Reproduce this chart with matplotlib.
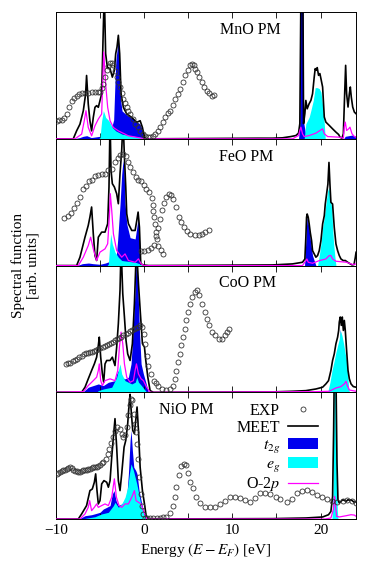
import matplotlib
matplotlib.use("Agg")
import matplotlib.pyplot as plt
from matplotlib.lines import Line2D
from matplotlib.patches import Patch
from matplotlib.ticker import MultipleLocator

plt.rcParams["font.family"] = "serif"
plt.rcParams["font.serif"] = ["Liberation Serif", "DejaVu Serif"]
plt.rcParams["mathtext.fontset"] = "stix"

# colours
C_T2G = "#0000ee"
C_EG = "#00ffff"
C_O2P = "#ff00ff"
C_TOT = "black"
C_EXP = "#333333"

# ---------------- MnO ----------------
MNO_TOT = [(-10, 0), (-8.03, 0.0), (-7.65, 0.063), (-7.27, 0.116), (-6.89, 0.222), (-6.63, 0.354),
           (-6.52, 0.5), (-6.33, 0.275), (-6.14, 0.143), (-5.95, 0.063), (-5.76, 0.169), (-5.57, 0.249),
           (-5.38, 0.262), (-5.19, 0.249), (-5.0, 0.302), (-4.81, 0.354), (-4.62, 0.884), (-4.51, 1.15),
           (-4.36, 0.672), (-4.17, 0.566), (-3.86, 0.553), (-3.6, 0.487), (-3.37, 0.54), (-3.22, 0.672),
           (-3.07, 0.725), (-2.92, 0.817), (-2.77, 0.672), (-2.61, 0.354), (-2.35, 0.249), (-1.97, 0.196),
           (-1.4, 0.169), (-0.83, 0.13), (-0.45, 0.143), (-0.19, 0.09), (0.04, 0.011), (0.3, 0.0),
           (13.0, 0.005), (14.55, 0.005), (15.68, 0.008), (16.63, 0.018), (17.2, 0.026), (17.5, 0.045),
           (17.65, 0.12), (17.77, 1.15), (18.0, 1.15), (18.07, 0.12), (18.22, 0.2), (18.33, 0.303),
           (18.48, 0.237), (18.7, 0.277), (18.9, 0.303), (19.09, 0.356), (19.28, 0.488), (19.39, 0.554),
           (19.5, 0.541), (19.62, 0.562), (19.77, 0.501), (19.92, 0.515), (20.04, 0.475), (20.23, 0.409),
           (20.42, 0.172), (20.6, 0.132), (20.98, 0.106), (21.36, 0.079), (21.74, 0.053), (22.05, 0.034),
           (22.2, 0.013), (22.42, 0.005), (22.58, 0.04), (22.73, 0.356), (22.84, 0.58), (22.95, 0.356),
           (23.11, 0.251), (23.26, 0.356), (23.37, 0.409), (23.48, 0.33), (23.64, 0.251), (23.83, 0.211),
           (24.02, 0.198)]
MNO_T2G = [(-8.0, 0), (-7.3, 0.01), (-6.9, 0.02), (-6.5, 0.025), (-6.0, 0.01), (-5.5, 0.015),
           (-5.0, 0.02), (-4.6, 0.03), (-4.3, 0.02), (-3.9, 0.03), (-3.45, 0.15), (-3.3, 0.45),
           (-3.2, 0.62), (-3.07, 0.7), (-2.92, 0.79), (-2.77, 0.6), (-2.65, 0.3), (-2.5, 0.22),
           (-2.0, 0.19), (-1.5, 0.17), (-1.0, 0.14), (-0.5, 0.12), (-0.25, 0.08), (0.05, 0),
           (17.5, 0), (17.65, 0.12), (17.72, 1.15), (18.0, 1.15), (18.05, 0.14), (18.2, 0.08),
           (18.4, 0), (22.6, 0), (22.8, 0.02), (23.2, 0.025), (23.6, 0.03), (24.02, 0.02)]
MNO_EG = [(-5.2, 0), (-5.0, 0.01), (-4.81, 0.143), (-4.62, 0.222), (-4.5, 0.2), (-4.36, 0.169),
          (-4.0, 0.143), (-3.6, 0.09), (-3.22, 0.063), (-2.5, 0.037), (-0.3, 0.01), (0.0, 0),
          (18.14, 0), (18.33, 0.119), (18.52, 0.145), (18.71, 0.172), (18.9, 0.224), (19.17, 0.303),
          (19.39, 0.404), (19.62, 0.404), (19.85, 0.396), (20.04, 0.369), (20.23, 0.264),
          (20.42, 0.119), (20.53, 0)]
MNO_O2P = [(-10, 0), (-7.84, 0), (-7.08, 0.037), (-6.78, 0.143), (-6.59, 0.222), (-6.33, 0.09),
           (-5.95, 0.024), (-5.57, 0.103), (-5.19, 0.156), (-4.81, 0.196), (-4.58, 0.685),
           (-4.36, 0.434), (-4.13, 0.249), (-3.86, 0.143), (-3.48, 0.09), (-2.92, 0.063),
           (-1.78, 0.024), (0.11, 0), (16.82, 0.0), (17.5, 0.026), (17.65, 0.066), (17.77, 0.092),
           (17.95, 0.04), (18.14, 0.018), (18.71, 0.026), (19.47, 0.045), (20.04, 0.071),
           (20.23, 0.079), (20.42, 0.04), (20.8, 0.018), (22.12, 0.013), (22.58, 0.005),
           (22.69, 0.092), (22.8, 0.132), (22.95, 0.066), (23.18, 0.079), (23.33, 0.092),
           (23.56, 0.04), (23.83, 0.018), (24.02, 0.013)]
MNO_EXP = [(-9.92, 0.143), (-9.64, 0.145), (-9.36, 0.148), (-9.08, 0.165), (-8.79, 0.196), (-8.5, 0.25),
           (-8.22, 0.30), (-7.94, 0.325), (-7.65, 0.34), (-7.37, 0.352), (-7.08, 0.36), (-6.7, 0.363),
           (-6.33, 0.365), (-5.95, 0.366), (-5.57, 0.368), (-5.28, 0.368), (-5.0, 0.368), (-4.81, 0.40),
           (-4.62, 0.434), (-4.43, 0.49), (-4.24, 0.54), (-4.05, 0.575), (-3.86, 0.60), (-3.67, 0.6),
           (-3.48, 0.58), (-3.3, 0.535), (-3.11, 0.487), (-2.92, 0.45), (-2.73, 0.41), (-2.54, 0.36),
           (-2.35, 0.315), (-2.16, 0.28), (-1.97, 0.25), (-1.78, 0.22), (-1.59, 0.196), (-1.3, 0.155),
           (-1.02, 0.116), (-0.73, 0.09), (-0.45, 0.063), (-0.17, 0.04), (0.11, 0.024), (0.4, 0.018),
           (0.68, 0.016), (0.96, 0.025), (1.25, 0.037), (1.53, 0.06), (1.82, 0.09), (2.1, 0.13),
           (2.39, 0.17), (2.67, 0.2), (2.95, 0.22), (3.24, 0.265), (3.52, 0.315), (3.8, 0.355),
           (4.09, 0.394), (4.37, 0.45), (4.66, 0.50), (4.95, 0.545), (5.23, 0.58), (5.42, 0.59),
           (5.61, 0.58), (5.8, 0.555), (5.98, 0.526), (6.27, 0.485), (6.55, 0.447), (6.83, 0.41),
           (7.12, 0.38), (7.4, 0.36), (7.69, 0.34), (7.95, 0.345)]

# ---------------- FeO ----------------
FEO_TOT = [(-10, 0), (-7.65, 0), (-7.27, 0.066), (-6.7, 0.224), (-6.33, 0.317), (-6.14, 0.383),
           (-5.95, 0.462), (-5.76, 0.251), (-5.57, 0.079), (-5.38, 0.04), (-5.19, 0.224), (-4.81, 0.264),
           (-4.43, 0.264), (-4.13, 0.33), (-3.98, 0.62), (-3.86, 1.15), (-3.75, 0.752), (-3.6, 0.646),
           (-3.37, 0.62), (-3.11, 0.567), (-2.92, 0.488), (-2.73, 0.726), (-2.54, 0.91), (-2.39, 1.15),
           (-2.23, 0.858), (-2.08, 0.62), (-1.97, 0.409), (-1.78, 0.33), (-1.4, 0.277), (-1.02, 0.277),
           (-0.83, 0.356), (-0.68, 0.422), (-0.53, 0.303), (-0.38, 0.013), (-0.08, 0.005), (0.5, 0),
           (14.55, 0.005), (16.82, 0.013), (17.95, 0.026), (18.22, 0.052), (18.33, 0.223),
           (18.41, 0.381), (18.48, 0.407), (18.6, 0.381), (18.71, 0.328), (18.83, 0.262), (18.98, 0.197),
           (19.09, 0.118), (19.28, 0.092), (19.47, 0.066), (19.66, 0.079), (19.85, 0.118), (20.04, 0.197),
           (20.23, 0.328), (20.42, 0.394), (20.53, 0.486), (20.68, 0.564), (20.83, 0.643), (20.95, 0.814),
           (21.06, 0.643), (21.17, 0.499), (21.36, 0.486), (21.55, 0.302), (21.74, 0.171), (21.93, 0.118),
           (22.12, 0.079), (22.31, 0.052), (22.58, 0.039), (22.8, 0.04), (23.07, 0.026), (23.56, 0.005),
           (23.79, 0.008), (23.94, 0.066), (24.02, 0.105)]
FEO_T2G = [(-7.6, 0), (-7.0, 0.015), (-6.3, 0.02), (-5.8, 0.015), (-5.0, 0.01), (-4.4, 0.02),
           (-4.0, 0.03), (-3.2, 0.04), (-3.0, 0.2), (-2.73, 0.48), (-2.54, 0.72), (-2.39, 0.83),
           (-2.27, 0.75), (-2.16, 0.49), (-1.97, 0.33), (-1.59, 0.22), (-1.02, 0.21), (-0.83, 0.30),
           (-0.68, 0.38), (-0.53, 0.22), (-0.38, 0.0),
           (18.18, 0), (18.33, 0.197), (18.45, 0.381), (18.56, 0.354), (18.71, 0.276), (18.9, 0.171),
           (19.09, 0.079), (19.28, 0.039), (19.47, 0)]
FEO_EG = [(-4.2, 0), (-4.05, 0.013), (-3.94, 0.119), (-3.79, 0.25), (-3.6, 0.17), (-3.3, 0.106),
          (-2.92, 0.066), (-2.54, 0.04), (-1.0, 0.026), (-0.45, 0.013), (-0.3, 0),
          (19.66, 0), (19.85, 0.079), (20.04, 0.171), (20.23, 0.302), (20.42, 0.381), (20.6, 0.486),
          (20.8, 0.591), (20.95, 0.617), (21.1, 0.538), (21.29, 0.433), (21.36, 0.302), (21.48, 0.171),
          (21.63, 0.066), (21.74, 0)]
FEO_O2P = [(-10, 0), (-7.46, 0), (-6.89, 0.066), (-6.33, 0.158), (-6.06, 0.224), (-5.76, 0.132),
           (-5.38, 0.04), (-5.0, 0.106), (-4.43, 0.132), (-4.13, 0.172), (-3.94, 0.383), (-3.83, 0.567),
           (-3.67, 0.435), (-3.48, 0.251), (-3.11, 0.119), (-2.54, 0.066), (-2.16, 0.092), (-1.78, 0.04),
           (-1.02, 0.026), (-0.64, 0.053), (-0.34, 0.013), (0.04, 0), (17.95, 0.0), (18.33, 0.039),
           (18.45, 0.052), (18.6, 0.026), (19.09, 0.018), (19.85, 0.039), (20.6, 0.052), (20.98, 0.079),
           (21.17, 0.079), (21.36, 0.052), (21.74, 0.034), (22.95, 0.026), (23.64, 0.008), (24.02, 0.013)]
FEO_PES = [(-9.05, 0.375), (-8.67, 0.388), (-8.33, 0.414), (-7.99, 0.454), (-7.61, 0.496), (-7.31, 0.54),
           (-6.89, 0.607), (-6.59, 0.63), (-6.29, 0.668), (-5.95, 0.673), (-5.57, 0.705), (-5.19, 0.712),
           (-4.81, 0.72), (-4.43, 0.726), (-4.05, 0.752), (-3.6, 0.765), (-3.3, 0.818), (-2.99, 0.852),
           (-2.69, 0.873), (-2.39, 0.884), (-2.08, 0.863), (-1.86, 0.818), (-1.55, 0.778), (-1.25, 0.736),
           (-0.95, 0.70), (-0.64, 0.678), (-0.34, 0.665), (-0.04, 0.633), (0.27, 0.607), (0.61, 0.58),
           (0.87, 0.533), (0.98, 0.475), (1.06, 0.43), (1.17, 0.383), (1.25, 0.325), (1.36, 0.264),
           (1.44, 0.211), (1.63, 0.158), (1.93, 0.119), (2.12, 0.092)]
FEO_BIS = [(-0.34, 0.113), (0.04, 0.113), (0.42, 0.119), (0.8, 0.137), (1.1, 0.166), (1.36, 0.23),
           (1.63, 0.30), (1.82, 0.37), (2.0, 0.435), (2.2, 0.49), (2.46, 0.54), (2.77, 0.562),
           (3.07, 0.56), (3.33, 0.528), (3.6, 0.46), (3.98, 0.38), (4.2, 0.343), (4.47, 0.303),
           (4.85, 0.27), (5.23, 0.25), (5.72, 0.245), (6.17, 0.245), (6.55, 0.25), (6.93, 0.264),
           (7.31, 0.282)]

# ---------------- CoO ----------------
COO_TOT = [(-10, 0), (-7.08, 0), (-6.7, 0.04), (-6.33, 0.106), (-5.95, 0.172), (-5.64, 0.224),
           (-5.38, 0.277), (-5.19, 0.369), (-5.08, 0.435), (-4.92, 0.277), (-4.73, 0.145), (-4.58, 0.079),
           (-4.43, 0.224), (-4.24, 0.251), (-3.86, 0.251), (-3.6, 0.277), (-3.3, 0.211), (-3.11, 0.356),
           (-2.92, 0.541), (-2.73, 0.805), (-2.61, 1.15), (-2.42, 0.778), (-2.23, 0.594), (-2.05, 0.409),
           (-1.86, 0.303), (-1.59, 0.251), (-1.33, 0.383), (-1.1, 0.699), (-0.87, 1.15), (-0.64, 0.858),
           (-0.42, 0.62), (-0.19, 0.383), (0.04, 0.356), (0.19, 0.251), (0.42, 0.119), (0.68, 0.013),
           (1.06, 0), (14.55, 0.003), (16.82, 0.008), (18.33, 0.013), (19.47, 0.026), (20.23, 0.04),
           (20.6, 0.066), (20.9, 0.092), (21.17, 0.172), (21.36, 0.251), (21.55, 0.303), (21.74, 0.383),
           (21.93, 0.435), (22.05, 0.488), (22.12, 0.554), (22.23, 0.594), (22.35, 0.528), (22.46, 0.594),
           (22.58, 0.488), (22.69, 0.567), (22.8, 0.488), (22.95, 0.33), (23.11, 0.172), (23.26, 0.106),
           (23.45, 0.066), (23.71, 0.045), (24.02, 0.04)]
COO_T2G = [(-7.1, 0), (-6.89, 0.005), (-6.33, 0.04), (-5.76, 0.053), (-5.19, 0.066), (-4.62, 0.053),
           (-4.05, 0.079), (-3.3, 0.092), (-3.11, 0.145), (-2.92, 0.172), (-2.61, 0.119), (-2.16, 0.106),
           (-1.78, 0.119), (-1.48, 0.224), (-1.25, 0.488), (-1.02, 0.805), (-0.87, 1.15), (-0.72, 0.858),
           (-0.53, 0.488), (-0.34, 0.224), (-0.08, 0.145), (0.19, 0.079), (0.49, 0),
           (21.9, 0), (22.12, 0.3), (22.23, 0.5), (22.35, 0.42), (22.5, 0.2), (22.7, 0)]
COO_EG = [(-5.4, 0), (-5.19, 0.013), (-4.62, 0.026), (-3.67, 0.04), (-3.11, 0.119), (-2.92, 0.172),
          (-2.73, 0.224), (-2.54, 0.145), (-2.16, 0.092), (-1.78, 0.079), (-1.4, 0.066), (-1.0, 0.08),
          (-0.83, 0.12), (-0.64, 0.08), (-0.3, 0.053), (0.0, 0.026), (0.3, 0),
          (20.8, 0), (21.06, 0.079), (21.29, 0.172), (21.55, 0.251), (21.74, 0.317), (21.93, 0.37),
          (22.12, 0.422), (22.23, 0.488), (22.42, 0.449), (22.61, 0.383), (22.8, 0.303), (22.95, 0.251),
          (23.07, 0.145), (23.18, 0.04), (23.26, 0)]
COO_O2P = [(-10, 0), (-6.89, 0.005), (-6.33, 0.053), (-5.76, 0.092), (-5.38, 0.119), (-5.19, 0.172),
           (-5.08, 0.224), (-4.92, 0.092), (-4.73, 0.053), (-4.43, 0.092), (-3.86, 0.106), (-3.3, 0.092),
           (-2.99, 0.172), (-2.8, 0.356), (-2.61, 0.475), (-2.42, 0.383), (-2.23, 0.224), (-1.97, 0.119),
           (-1.59, 0.079), (-1.21, 0.092), (-1.02, 0.172), (-0.87, 0.224), (-0.64, 0.145), (-0.34, 0.106),
           (-0.08, 0.092), (0.3, 0.04), (0.68, 0), (19.47, 0.005), (20.98, 0.008), (21.74, 0.034),
           (22.31, 0.045), (22.69, 0.066), (22.88, 0.087), (23.03, 0.053), (23.26, 0.018), (24.02, 0.008)]
COO_EXP = [(-8.9, 0.224), (-8.65, 0.228), (-8.41, 0.232), (-8.03, 0.243), (-7.8, 0.254), (-7.58, 0.264),
           (-7.33, 0.277), (-7.08, 0.29), (-6.85, 0.3), (-6.63, 0.309), (-6.38, 0.313), (-6.14, 0.317),
           (-5.9, 0.321), (-5.68, 0.325), (-5.43, 0.332), (-5.19, 0.34), (-4.95, 0.348), (-4.7, 0.356),
           (-4.47, 0.364), (-4.24, 0.372), (-4.0, 0.38), (-3.79, 0.388), (-3.55, 0.398), (-3.3, 0.409),
           (-3.07, 0.42), (-2.84, 0.43), (-2.6, 0.44), (-2.35, 0.449), (-2.1, 0.46), (-1.86, 0.47),
           (-1.63, 0.48), (-1.4, 0.488), (-1.17, 0.498), (-0.95, 0.507), (-0.7, 0.518), (-0.45, 0.528),
           (-0.19, 0.514), (0.0, 0.462), (0.11, 0.383), (0.3, 0.29), (0.49, 0.211), (0.8, 0.145),
           (1.17, 0.092), (1.4, 0.07), (1.63, 0.053), (2.0, 0.026), (2.46, 0.018), (2.95, 0.026),
           (3.22, 0.053), (3.45, 0.106), (3.64, 0.17), (3.83, 0.237), (4.02, 0.303), (4.2, 0.37),
           (4.39, 0.435), (4.58, 0.50), (4.77, 0.567), (4.96, 0.633), (5.15, 0.70), (5.42, 0.752),
           (5.72, 0.79), (5.98, 0.805), (6.25, 0.765), (6.55, 0.70), (6.86, 0.633), (7.12, 0.58),
           (7.39, 0.528), (7.69, 0.475), (8.07, 0.449), (8.45, 0.422), (8.83, 0.422), (9.2, 0.449),
           (9.45, 0.475), (9.66, 0.50)]

# ---------------- NiO ----------------
NIO_TOT = [(-10, 0), (-7.46, 0), (-7.08, 0.04), (-6.52, 0.106), (-6.14, 0.224), (-5.87, 0.237),
           (-5.64, 0.29), (-5.49, 0.356), (-5.34, 0.224), (-5.19, 0.119), (-5.0, 0.145), (-4.81, 0.277),
           (-4.55, 0.303), (-4.24, 0.29), (-4.05, 0.251), (-3.86, 0.303), (-3.67, 0.488), (-3.48, 0.646),
           (-3.3, 0.792), (-3.11, 0.567), (-2.92, 0.303), (-2.73, 0.224), (-2.54, 0.356), (-2.27, 0.567),
           (-2.08, 0.62), (-1.86, 0.752), (-1.7, 0.91), (-1.59, 0.984), (-1.44, 0.831), (-1.29, 0.699),
           (-1.1, 0.673), (-0.95, 0.778), (-0.8, 0.884), (-0.64, 0.699), (-0.45, 0.409), (-0.19, 0.224),
           (0.04, 0.119), (0.23, 0.026), (0.49, 0), (14.55, 0.003), (18.33, 0.008), (20.23, 0.016),
           (20.9, 0.034), (21.17, 0.06), (21.36, 0.178), (21.48, 0.703), (21.55, 1.15), (21.74, 1.15),
           (21.86, 0.441), (21.97, 0.152), (22.12, 0.126), (22.31, 0.139), (22.5, 0.152), (22.7, 0.147),
           (22.9, 0.139), (23.1, 0.152), (23.3, 0.147), (23.45, 0.152), (23.6, 0.144), (23.83, 0.131),
           (24.02, 0.139)]
NIO_T2G = [(-7.27, 0.005), (-6.7, 0.026), (-5.95, 0.034), (-5.38, 0.045), (-5.0, 0.053), (-4.62, 0.079),
           (-4.24, 0.092), (-3.86, 0.106), (-3.6, 0.198), (-3.41, 0.224), (-3.18, 0.145), (-2.92, 0.106),
           (-2.54, 0.119), (-2.16, 0.145), (-1.97, 0.172), (-1.78, 0.356), (-1.59, 0.62), (-1.48, 0.699),
           (-1.33, 0.541), (-1.17, 0.409), (-0.95, 0.383), (-0.8, 0.356), (-0.57, 0.224), (-0.34, 0.145),
           (-0.08, 0.066), (0.19, 0)]
NIO_EG = [(-6.7, 0.005), (-5.57, 0.018), (-4.81, 0.04), (-4.05, 0.053), (-3.48, 0.106), (-3.3, 0.132),
          (-2.92, 0.092), (-2.54, 0.119), (-2.16, 0.172), (-1.86, 0.251), (-1.67, 0.356), (-1.48, 0.435),
          (-1.21, 0.383), (-0.83, 0.277), (-0.45, 0.145), (-0.08, 0.053), (0.19, 0),
          (21.29, 0), (21.4, 0.178), (21.48, 0.7), (21.55, 1.15), (21.74, 1.15), (21.82, 0.441),
          (21.89, 0.073), (21.97, 0)]
NIO_O2P = [(-10, 0), (-7.27, 0), (-6.7, 0.04), (-6.33, 0.092), (-6.17, 0.145), (-5.95, 0.066),
           (-5.64, 0.092), (-5.38, 0.119), (-5.19, 0.092), (-4.81, 0.106), (-4.43, 0.119), (-4.05, 0.106),
           (-3.67, 0.172), (-3.37, 0.317), (-3.14, 0.172), (-2.84, 0.106), (-2.54, 0.092), (-2.16, 0.119),
           (-1.78, 0.119), (-1.4, 0.172), (-1.1, 0.224), (-0.91, 0.145), (-0.64, 0.132), (-0.34, 0.119),
           (-0.08, 0.066), (0.3, 0), (20.5, 0), (21.17, 0.008), (21.44, 0.073), (21.59, 0.178),
           (21.7, 0.1), (21.82, 0.021), (22.12, 0.016), (22.9, 0.026), (23.45, 0.034), (23.83, 0.031),
           (24.02, 0.021)]
NIO_EXP = [(-9.92, 0.356), (-9.73, 0.362), (-9.55, 0.369), (-9.36, 0.376), (-9.17, 0.383), (-8.98, 0.39),
           (-8.79, 0.396), (-8.6, 0.403), (-8.41, 0.409), (-8.22, 0.4), (-8.03, 0.39), (-7.84, 0.382),
           (-7.65, 0.375), (-7.46, 0.371), (-7.27, 0.369), (-7.08, 0.376), (-6.89, 0.383), (-6.7, 0.387),
           (-6.52, 0.39), (-6.33, 0.393), (-6.14, 0.396), (-5.95, 0.403), (-5.76, 0.409), (-5.57, 0.412),
           (-5.38, 0.414), (-5.19, 0.422), (-5.0, 0.43), (-4.81, 0.44), (-4.62, 0.449), (-4.36, 0.475),
           (-4.13, 0.515), (-3.94, 0.554), (-3.75, 0.6), (-3.56, 0.646), (-3.3, 0.694), (-3.03, 0.726),
           (-2.77, 0.712), (-2.54, 0.673), (-2.35, 0.646), (-2.16, 0.66), (-1.97, 0.726), (-1.78, 0.818),
           (-1.63, 0.897), (-1.48, 0.95), (-1.33, 0.937), (-1.17, 0.83), (-1.02, 0.752), (-0.91, 0.686),
           (-0.83, 0.594), (-0.7, 0.47), (-0.55, 0.33), (-0.4, 0.2), (-0.25, 0.1), (-0.1, 0.04),
           (0.1, 0.01), (0.3, 0.005), (0.68, 0.005), (1.06, 0.005), (1.44, 0.007), (1.82, 0.01),
           (2.16, 0.014), (2.5, 0.018), (2.95, 0.05), (3.26, 0.102), (3.48, 0.176), (3.64, 0.255),
           (3.9, 0.346), (4.17, 0.417), (4.47, 0.438), (4.73, 0.425), (4.96, 0.36), (5.23, 0.294),
           (5.53, 0.241), (5.91, 0.176), (6.36, 0.123), (6.93, 0.097), (7.5, 0.092), (8.07, 0.097),
           (8.64, 0.115), (9.2, 0.144), (9.77, 0.171), (10.34, 0.176), (10.9, 0.163), (11.48, 0.15),
           (12.05, 0.136), (12.6, 0.163), (13.18, 0.202), (13.75, 0.207), (14.3, 0.197), (14.9, 0.176),
           (15.45, 0.155), (16.2, 0.136), (16.8, 0.155), (17.35, 0.202), (17.9, 0.223), (18.5, 0.228),
           (19.05, 0.215), (19.6, 0.189), (20.2, 0.171), (20.75, 0.155), (21.3, 0.142), (21.9, 0.136),
           (22.5, 0.142), (23.0, 0.15), (23.6, 0.144), (24.05, 0.128)]

PANELS = [
    ("MnO PM", MNO_TOT, MNO_T2G, MNO_EG, MNO_O2P, [MNO_EXP]),
    ("FeO PM", FEO_TOT, FEO_T2G, FEO_EG, FEO_O2P, [FEO_PES, FEO_BIS]),
    ("CoO PM", COO_TOT, COO_T2G, COO_EG, COO_O2P, [COO_EXP]),
    ("NiO PM", NIO_TOT, NIO_T2G, NIO_EG, NIO_O2P, [NIO_EXP]),
]
LABEL_X = [0.647, 0.635, 0.64, 0.436]


def xy(pairs):
    return [p[0] for p in pairs], [p[1] for p in pairs]


fig, axes = plt.subplots(4, 1, figsize=(3.75, 5.77), dpi=100, sharex=True)
fig.subplots_adjust(left=0.149, right=0.949, top=0.979, bottom=0.1005, hspace=0)

for ax, (name, tot, t2g, eg, o2p, exps), lx in zip(axes, PANELS, LABEL_X):
    x, y = xy(t2g)
    ax.fill_between(x, y, 0, color=C_T2G, lw=0, zorder=1)
    x, y = xy(eg)
    ax.fill_between(x, y, 0, color=C_EG, lw=0, zorder=2)
    x, y = xy(tot)
    ax.plot(x, y, color=C_TOT, lw=1.2, zorder=3)
    x, y = xy(o2p)
    ax.plot(x, y, color=C_O2P, lw=0.9, zorder=4)
    for e in exps:
        x, y = xy(e)
        ax.plot(x, y, ls="none", marker="o", ms=3.6, mfc="none", mec=C_EXP, mew=0.6, zorder=5)

    ax.set_xlim(-10, 24)
    ax.set_ylim(0, 1)
    ax.set_yticks([])
    ax.xaxis.set_major_locator(MultipleLocator(10))
    ax.xaxis.set_minor_locator(MultipleLocator(5))
    ax.tick_params(axis="x", which="both", direction="in", top=True, bottom=True,
                   length=4, width=0.6, labelsize=11)
    for sp in ax.spines.values():
        sp.set_linewidth(0.7)
    ax.text(lx, 0.86, name, transform=ax.transAxes, ha="center", va="center", fontsize=11.5)

axes[-1].set_xlabel(r"Energy $(E - E_F)$ [eV]", fontsize=11, labelpad=3)
fig.text(0.067, 0.54, "Spectral function\n[arb. units]", rotation=90, ha="center", va="center",
         fontsize=11, multialignment="center")

handles = [
    Line2D([], [], ls="none", marker="o", ms=3.6, mfc="none", mec=C_EXP, mew=0.6),
    Line2D([], [], color=C_TOT, lw=1.2),
    Patch(facecolor=C_T2G, edgecolor="none"),
    Patch(facecolor=C_EG, edgecolor="none"),
    Line2D([], [], color=C_O2P, lw=0.9),
]
labels = ["EXP", "MEET", r"$t_{2g}$", r"$e_g$", r"O-2$p$"]
axes[-1].legend(handles, labels, loc="upper right", bbox_to_anchor=(0.875, 0.915), frameon=False,
                markerfirst=False, fontsize=11.5, handlelength=1.9, handletextpad=0.5,
                labelspacing=0.06, borderpad=0, borderaxespad=0)

fig.savefig("out.png", dpi=100)
